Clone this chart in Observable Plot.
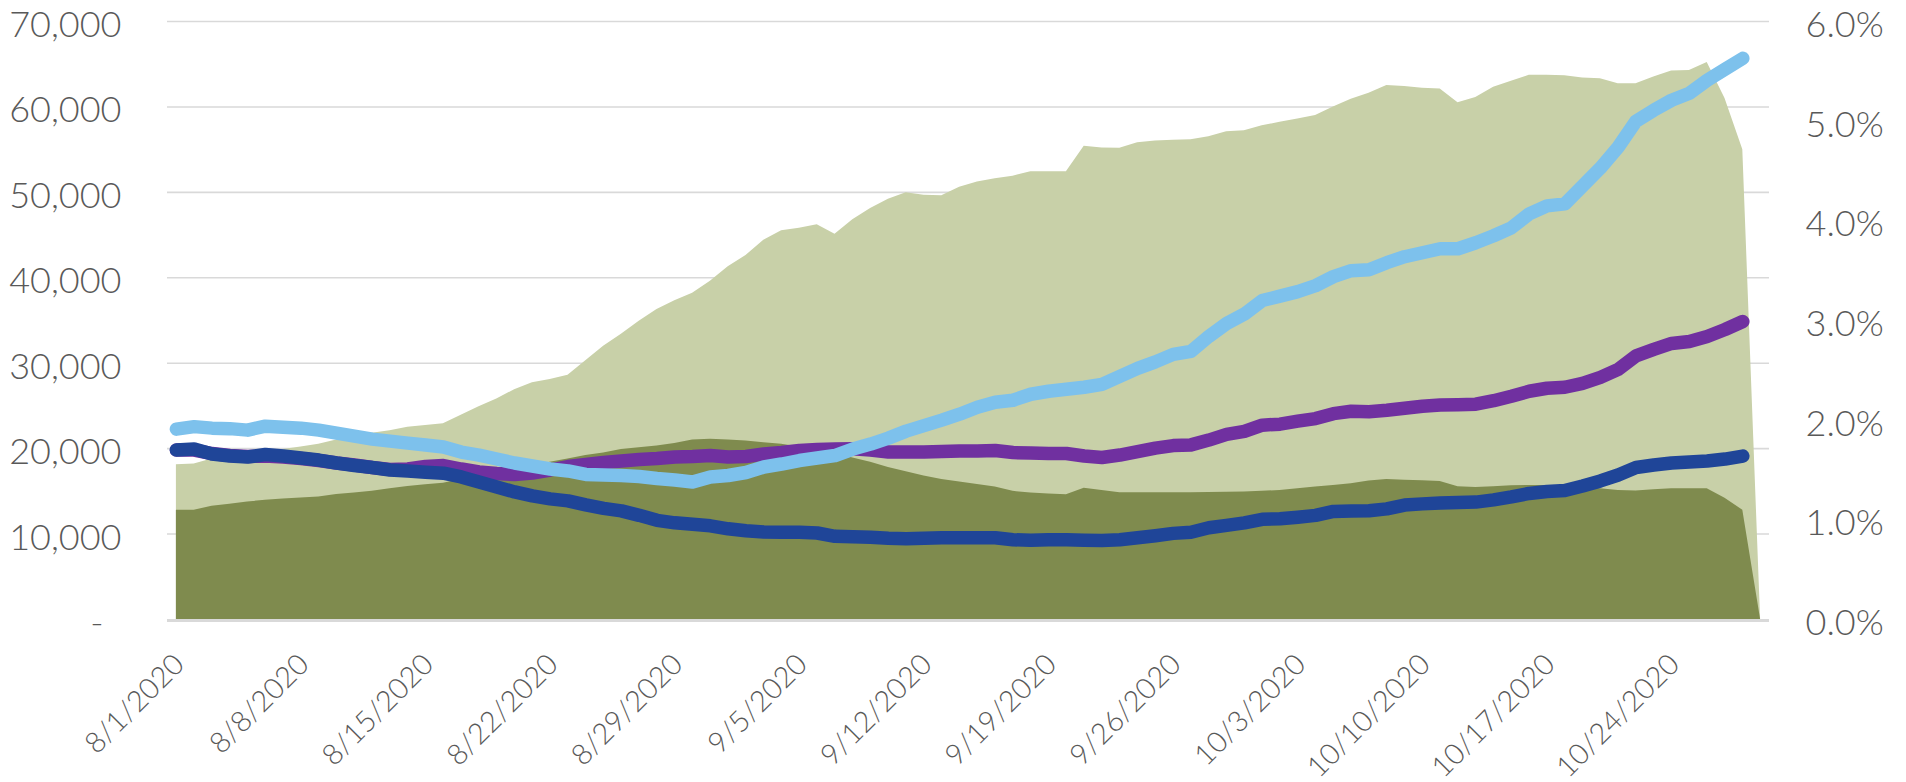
<!DOCTYPE html>
<html><head><meta charset="utf-8">
<script src="https://cdn.jsdelivr.net/npm/d3@7"></script>
<script src="https://cdn.jsdelivr.net/npm/@observablehq/plot@0.6"></script>
<style>html,body{margin:0;padding:0;background:#fff;overflow:hidden}</style>
</head><body><div id="chart"></div>
<script>
const dates = [
"2020-08-01","2020-08-02","2020-08-03","2020-08-04","2020-08-05","2020-08-06","2020-08-07","2020-08-08","2020-08-09","2020-08-10",
"2020-08-11","2020-08-12","2020-08-13","2020-08-14","2020-08-15","2020-08-16","2020-08-17","2020-08-18","2020-08-19","2020-08-20",
"2020-08-21","2020-08-22","2020-08-23","2020-08-24","2020-08-25","2020-08-26","2020-08-27","2020-08-28","2020-08-29","2020-08-30",
"2020-08-31","2020-09-01","2020-09-02","2020-09-03","2020-09-04","2020-09-05","2020-09-06","2020-09-07","2020-09-08","2020-09-09",
"2020-09-10","2020-09-11","2020-09-12","2020-09-13","2020-09-14","2020-09-15","2020-09-16","2020-09-17","2020-09-18","2020-09-19",
"2020-09-20","2020-09-21","2020-09-22","2020-09-23","2020-09-24","2020-09-25","2020-09-26","2020-09-27","2020-09-28","2020-09-29",
"2020-09-30","2020-10-01","2020-10-02","2020-10-03","2020-10-04","2020-10-05","2020-10-06","2020-10-07","2020-10-08","2020-10-09",
"2020-10-10","2020-10-11","2020-10-12","2020-10-13","2020-10-14","2020-10-15","2020-10-16","2020-10-17","2020-10-18","2020-10-19",
"2020-10-20","2020-10-21","2020-10-22","2020-10-23","2020-10-24","2020-10-25","2020-10-26","2020-10-27","2020-10-28","2020-10-29"];

const lightArea = [18100,18200,18800,19100,19300,19600,19900,20200,20500,21000,
21400,21800,22100,22500,22700,22900,23900,24900,25800,26900,
27700,28100,28600,30300,32000,33400,34900,36300,37300,38200,
39600,41300,42600,44400,45500,45800,46200,45100,46800,48100,
49200,49950,49650,49600,50600,51200,51600,51900,52400,52400,
52400,55400,55200,55150,55800,56000,56100,56150,56500,57100,
57200,57800,58200,58600,59000,60000,60900,61600,62500,62400,
62200,62100,60500,61100,62300,63000,63700,63700,63650,63400,
63300,62700,62700,63500,64200,64250,65200,61000,55000,0];

const darkArea = [12800,12800,13250,13500,13750,13950,14100,14230,14350,14630,
14820,15020,15300,15570,15760,15960,16400,16800,17200,17600,
18000,18400,18800,19200,19500,19900,20100,20300,20600,21000,
21100,21000,20900,20700,20500,20200,19900,19500,18900,18400,
17800,17300,16800,16400,16100,15800,15500,15000,14800,14700,
14600,15350,15100,14850,14850,14850,14850,14850,14880,14900,
14930,15000,15100,15300,15500,15700,15900,16200,16380,16300,
16250,16160,15550,15450,15550,15650,15700,15700,15600,15550,
15300,15100,15050,15200,15300,15300,15300,14200,12800,0];

// percent series (right axis), 8/1 .. 10/28
const lineLightBlue = [1.91,1.935,1.92,1.915,1.90,1.94,1.93,1.92,1.90,1.87,
1.84,1.81,1.79,1.77,1.75,1.73,1.68,1.65,1.61,1.57,
1.54,1.51,1.49,1.455,1.45,1.445,1.435,1.415,1.40,1.38,
1.43,1.445,1.475,1.53,1.56,1.595,1.62,1.645,1.71,1.76,
1.82,1.89,1.945,2.00,2.06,2.13,2.18,2.20,2.26,2.29,
2.31,2.33,2.36,2.44,2.52,2.585,2.66,2.69,2.84,2.97,
3.065,3.20,3.245,3.29,3.35,3.44,3.50,3.51,3.58,3.64,
3.68,3.72,3.72,3.78,3.85,3.93,4.07,4.15,4.17,4.35,
4.53,4.74,5.00,5.11,5.21,5.28,5.41,5.52,5.63];

const linePurple = [1.70,1.70,1.665,1.645,1.635,1.64,1.63,1.615,1.595,1.57,
1.55,1.525,1.505,1.51,1.535,1.545,1.51,1.48,1.465,1.455,
1.47,1.50,1.535,1.555,1.575,1.59,1.605,1.615,1.63,1.635,
1.645,1.63,1.635,1.66,1.675,1.695,1.705,1.71,1.712,1.70,
1.68,1.68,1.68,1.685,1.69,1.69,1.695,1.675,1.67,1.665,
1.665,1.64,1.625,1.65,1.685,1.72,1.745,1.752,1.80,1.857,
1.887,1.95,1.96,1.99,2.016,2.065,2.09,2.085,2.10,2.12,
2.14,2.152,2.155,2.16,2.195,2.24,2.29,2.32,2.33,2.37,
2.43,2.51,2.645,2.71,2.77,2.79,2.84,2.91,2.99];

const lineDarkBlue = [1.70,1.71,1.66,1.64,1.63,1.655,1.64,1.62,1.60,1.57,
1.545,1.525,1.50,1.49,1.478,1.468,1.43,1.38,1.33,1.28,
1.24,1.21,1.19,1.15,1.115,1.09,1.045,0.995,0.97,0.955,
0.94,0.91,0.89,0.878,0.875,0.876,0.868,0.835,0.83,0.825,
0.815,0.81,0.815,0.82,0.82,0.82,0.82,0.80,0.795,0.80,
0.80,0.795,0.793,0.80,0.82,0.84,0.864,0.876,0.92,0.945,
0.97,1.005,1.01,1.026,1.045,1.084,1.088,1.091,1.11,1.148,
1.16,1.17,1.175,1.178,1.20,1.23,1.265,1.285,1.295,1.34,
1.39,1.45,1.525,1.55,1.57,1.58,1.59,1.61,1.64];

const yTicks = [0,10000,20000,30000,40000,50000,60000,70000];
const yTickLabels = ["-\u2002","10,000","20,000","30,000","40,000","50,000","60,000","70,000"];
const pctTicks = [0,1,2,3,4,5,6];
const pctTickLabels = ["0.0%","1.0%","2.0%","3.0%","4.0%","5.0%","6.0%"];
const xTickDates = ["2020-08-01","2020-08-08","2020-08-15","2020-08-22","2020-08-29","2020-09-05","2020-09-12","2020-09-19","2020-09-26","2020-10-03","2020-10-10","2020-10-17","2020-10-24"];
const xTickLabels = ["8/1/2020","8/8/2020","8/15/2020","8/22/2020","8/29/2020","9/5/2020","9/12/2020","9/19/2020","9/26/2020","10/3/2020","10/10/2020","10/17/2020","10/24/2020"];

const parse = d3.utcParse("%Y-%m-%d");
const areaRows = dates.map((d, i) => ({date: parse(d), light: lightArea[i], dark: darkArea[i]}));
const rowsFor = (arr) => arr.map((v, i) => ({date: parse(dates[i]), v}));
const PCT = 70000 / 6; // 6.0% at top of the left 70,000 scale
const HALF = 12 * 3600 * 1000;
const xDomain = [new Date(+parse(dates[0]) - HALF), new Date(+parse(dates[dates.length - 1]) + HALF)];

const font = "Lato, 'Open Sans', sans-serif";
const lineOpts = (stroke) => ({x: "date", y: d => d.v * PCT, stroke, strokeWidth: 13.5, strokeLinecap: "round", strokeLinejoin: "round"});

const chart = Plot.plot({
  width: 1906, height: 782,
  marginLeft: 167, marginRight: 137, marginTop: 21, marginBottom: 163,
  x: {type: "utc", domain: xDomain, axis: null},
  y: {domain: [0, 70000], axis: null},
  style: {fontFamily: font, background: "#fff"},
  marks: [
    Plot.ruleY(yTicks.slice(1), {stroke: "#D9D9D9", strokeWidth: 1.6}),
    Plot.areaY(areaRows, {x: "date", y: "light", fill: "#C8D0A8"}),
    Plot.areaY(areaRows, {x: "date", y: "dark", fill: "#7F8B4E"}),
    Plot.ruleY([0], {stroke: "#D9D9D9", strokeWidth: 3, dy: 1}),
    Plot.lineY(rowsFor(linePurple), lineOpts("#7030A0")),
    Plot.lineY(rowsFor(lineDarkBlue), lineOpts("#1F4598")),
    Plot.lineY(rowsFor(lineLightBlue), lineOpts("#7DC1EC")),
    Plot.text(yTicks, {y: d => d, text: (d, i) => yTickLabels[i], frameAnchor: "left", textAnchor: "end", dx: -46, dy: 4, fontSize: 36, fontWeight: 300, fill: "#595959"}),
    Plot.text(pctTicks, {y: d => d * PCT, text: (d, i) => pctTickLabels[i], frameAnchor: "right", textAnchor: "start", dx: 36, dy: 4, fontSize: 36, fontWeight: 300, fill: "#595959"}),
    Plot.text(xTickDates, {x: d => parse(d), text: (d, i) => xTickLabels[i], frameAnchor: "bottom", rotate: -45, textAnchor: "end", lineAnchor: "middle", dx: 3, dy: 40, fontSize: 29, fontWeight: 300, fill: "#595959"})
  ]
});
document.getElementById("chart").appendChild(chart);
</script>
</body></html>
